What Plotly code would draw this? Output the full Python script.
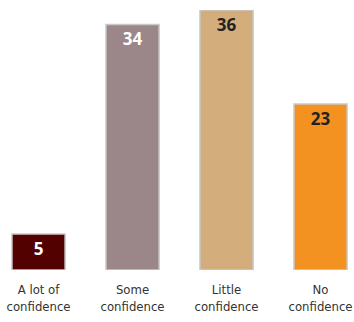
import plotly.graph_objects as go

categories = ["A lot of<br>confidence", "Some<br>confidence", "Little<br>confidence", "No<br>confidence"]
values = [5, 34, 36, 23]
colors = ["#520000", "#9b878a", "#d4ad7c", "#f39221"]
label_colors = ["#ffffff", "#ffffff", "#222222", "#222222"]

fig = go.Figure(go.Bar(
    x=categories, y=values,
    marker=dict(color=colors, line=dict(color="#c9c9c9", width=1.5)),
    width=0.565,
    text=[str(v) for v in values],
    textposition="inside", insidetextanchor="end",
    textfont=dict(family="Open Sans", size=17, color=label_colors, weight="bold"),
    textangle=0, cliponaxis=False,
))
fig.update_layout(
    width=354, height=322,
    margin=dict(l=0, r=0, t=10, b=52),
    paper_bgcolor="white", plot_bgcolor="white",
    showlegend=False,
    uniformtext=dict(minsize=17, mode="show"),
    xaxis=dict(range=[-0.41, 3.356], showgrid=False, showline=False, zeroline=False,
               tickfont=dict(family="DejaVu Sans Condensed", size=13, color="#333333"),
               ticks="", ticklabelstandoff=10, automargin=False),
    yaxis=dict(range=[0, 36], visible=False, showgrid=False, zeroline=False),
)
fig.write_html("out.html", config={"displayModeBar": False},
               post_script="document.body.style.margin='0';")
